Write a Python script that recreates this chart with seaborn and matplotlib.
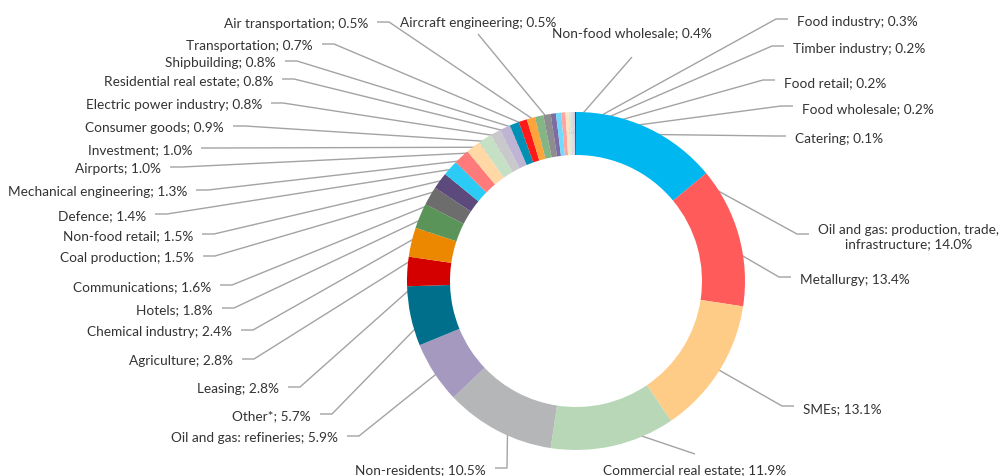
import matplotlib
matplotlib.use("Agg")
import matplotlib.pyplot as plt
import seaborn as sns
import numpy as np

# Loan portfolio structure by sector, % of total (clockwise from 12 o'clock)
sectors = [
    "Oil and gas: production, trade,\ninfrastructure", "Metallurgy", "SMEs",
    "Commercial real estate", "Non-residents", "Oil and gas: refineries",
    "Other*", "Leasing", "Agriculture", "Chemical industry", "Hotels",
    "Communications", "Coal production", "Non-food retail", "Defence",
    "Mechanical engineering", "Airports", "Investment", "Consumer goods",
    "Electric power industry", "Residential real estate", "Shipbuilding",
    "Transportation", "Air transportation", "Aircraft engineering",
    "Non-food wholesale", "Food industry", "Timber industry", "Food retail",
    "Food wholesale", "Catering",
]
shares = [
    14.0, 13.4, 13.1, 11.9, 10.5, 5.9, 5.7, 2.8, 2.8, 2.4, 1.8, 1.6, 1.5, 1.5,
    1.4, 1.3, 1.0, 1.0, 0.9, 0.8, 0.8, 0.8, 0.7, 0.5, 0.5, 0.4, 0.3, 0.2, 0.2,
    0.2, 0.1,
]
slice_colors = [
    "#00b7ef", "#ff5b5b", "#ffcc88", "#b7d7b7", "#b5b6b8", "#a699bf",
    "#006f8b", "#d40000", "#ec8800", "#5a9459", "#6d6d6d", "#5c4a7d",
    "#2bcbf5", "#ff7b7b", "#ffd8a6", "#c6e0c6", "#c9c9cb", "#bfb4d4",
    "#0090b4", "#ff1a1a", "#ffa43a", "#84b584", "#8d8d8f", "#7d6ca3",
    "#6fdcff", "#ffa3a3", "#ffe3c2", "#d7ead7", "#dcdcde", "#d8d0e6",
    "#3d4a55",
]

# Label placement in pixels (x, y from top-left).
# "L": x is the right edge of the text, "R": x is the left edge,
# "T": label above its leader line, "B": label below its leader line (x = centre)
label_layout = [
    ("R", 818, 237), ("R", 800, 280), ("R", 803, 409), ("B", 695, 470),
    ("L", 486, 470), ("L", 338, 438), ("L", 311, 416), ("L", 279, 389),
    ("L", 233, 361), ("L", 232, 332), ("L", 213, 310), ("L", 211, 287),
    ("L", 194, 258), ("L", 193, 236), ("L", 146, 216), ("L", 187, 192),
    ("L", 161, 169), ("L", 192, 150), ("L", 224, 128), ("L", 262, 105),
    ("L", 273, 81), ("L", 276, 63), ("L", 313, 46), ("L", 368, 24),
    ("T", 478, 23), ("T", 632, 33), ("R", 797, 22), ("R", 793, 49),
    ("R", 784, 83), ("R", 802, 109), ("R", 795, 139),
]

W, H = 1000, 477
CX, CY = 576, 282          # ring centre (pixels from top-left)
R_OUT, RING = 169, 43      # outer radius and ring thickness
TEXT_GAP, HSEG = 9, 12     # gap between text and leader, horizontal leader stub
LINE_COLOR = "#a3a3a3"
TEXT_COLOR = "#333333"
FONT_SIZE = 9.8

sns.set_theme(style="white")
plt.rcParams["font.family"] = ["Lato", "DejaVu Sans"]

palette = sns.color_palette(slice_colors)

fig = plt.figure(figsize=(W / 100, H / 100), dpi=100)
ax = fig.add_axes([0, 0, 1, 1])


def fy(y):
    return H - y


wedges, _ = ax.pie(
    shares, colors=palette, startangle=90, counterclock=False,
    radius=R_OUT, center=(CX, fy(CY)),
    wedgeprops=dict(width=RING, linewidth=0),
)
ax.set_xlim(0, W)
ax.set_ylim(0, H)
ax.set_aspect("equal")
ax.axis("off")

r_mid = R_OUT - RING / 2
for name, val, wedge, (kind, tx, ty) in zip(sectors, shares, wedges, label_layout):
    ang = np.deg2rad((wedge.theta1 + wedge.theta2) / 2)
    ax_x = CX + r_mid * np.cos(ang)
    ax_y = fy(CY) + r_mid * np.sin(ang)
    label = f"{name}; {val:.1f}%"
    if kind == "L":
        lx = [ax_x, tx + TEXT_GAP + HSEG, tx + TEXT_GAP]
        ly = [ax_y, fy(ty - 1), fy(ty - 1)]
        ax.text(tx, fy(ty), label, ha="right", va="center", fontsize=FONT_SIZE,
                color=TEXT_COLOR)
    elif kind == "R":
        lx = [ax_x, tx - TEXT_GAP - HSEG, tx - TEXT_GAP]
        ly = [ax_y, fy(ty - 2), fy(ty - 2)]
        ax.text(tx, fy(ty), label, ha="left", va="center", fontsize=FONT_SIZE,
                color=TEXT_COLOR, multialignment="center")
    elif kind == "T":
        lx = [ax_x, tx]
        ly = [ax_y, fy(ty + 12 if val > 0.45 else ty + 25)]
        ax.text(tx, fy(ty), label, ha="center", va="center", fontsize=FONT_SIZE,
                color=TEXT_COLOR)
    else:
        lx = [ax_x, tx]
        ly = [ax_y, fy(ty - 15)]
        ax.text(tx, fy(ty), label, ha="center", va="center", fontsize=FONT_SIZE,
                color=TEXT_COLOR)
    ax.plot(lx, ly, color=LINE_COLOR, lw=1.0, solid_capstyle="butt", zorder=0.5)

fig.savefig("out.png", dpi=100)
